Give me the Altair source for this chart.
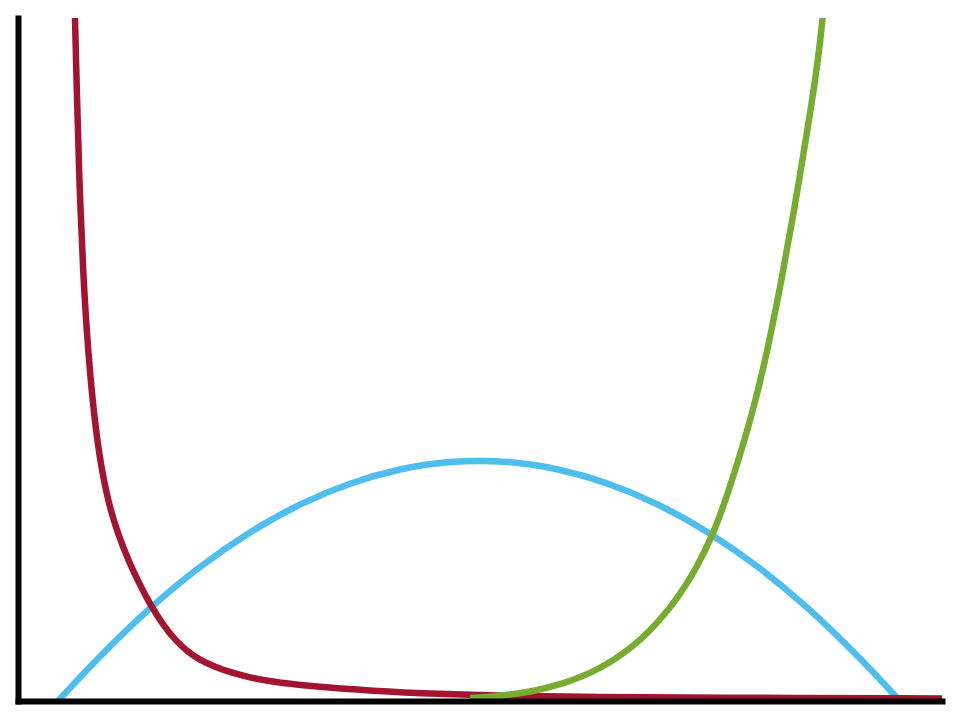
import altair as alt
import pandas as pd

# Values (x: 0..924, y: 0..683 plot units)
red_x = [56.6, 57, 58.5, 61, 65, 70, 76, 83, 91, 100, 111, 122, 132, 145, 158, 170, 182, 197, 213, 232, 252, 289, 355, 422, 482, 582, 682, 924]
red_y = [701, 683, 621, 528, 428, 350, 285, 234, 196, 167, 139, 116, 97, 76, 60, 49, 41, 34, 28.5, 23.5, 19.5, 15, 10, 7, 5.3, 4, 3.3, 2.6]

blue_x = [40, 82, 132, 182, 232, 282, 332, 382, 432, 461, 490, 540, 590, 640, 690, 740, 790, 840, 882]
blue_y = [0, 44.5, 92.6, 134, 168.6, 196.4, 217.3, 231.5, 238.9, 240, 238.9, 231.5, 217.3, 196.4, 168.6, 134, 92.6, 44.5, 0]

green_x = [452, 482, 512, 542, 582, 625, 659, 679, 694, 709, 735, 750.2, 763.6, 775.7, 786.6, 797.5, 805, 807.5]
green_y = [3, 5, 9, 16, 31, 61, 101, 134, 164, 204, 288, 354, 421, 488, 554, 621, 683, 720]

X_DOMAIN = [0, 924]
Y_DOMAIN = [0, 683]

def frame(xs, ys):
    return pd.DataFrame({"x": xs, "y": ys, "i": list(range(len(xs)))})

xs = alt.Scale(domain=X_DOMAIN, nice=False, zero=False)
ys = alt.Scale(domain=Y_DOMAIN, nice=False, zero=False)
ax = alt.Axis(labels=False, ticks=False, grid=False, title=None, domainWidth=6,
              domainColor="black", domainCap="square", zindex=1)

def line(df, color, interp):
    return alt.Chart(df).mark_line(color=color, strokeWidth=6.5, clip=True,
                                   interpolate=interp).encode(
        x=alt.X("x:Q", scale=xs, axis=ax),
        y=alt.Y("y:Q", scale=ys, axis=ax),
        order="i:O",
    )

chart = alt.layer(
    line(frame(blue_x, blue_y), "#4DBEEE", "monotone"),
    line(frame(red_x, red_y), "#A2142F", "basis"),
    line(frame(green_x, green_y), "#77AC30", "basis"),
).properties(
    width=924, height=683,
    autosize=alt.AutoSizeParams(type="none"),
    padding={"left": 10, "top": 10, "right": 10, "bottom": 10},
).configure_view(stroke=None)

chart.save("out.html", embed_options={"renderer": "svg", "actions": False})
